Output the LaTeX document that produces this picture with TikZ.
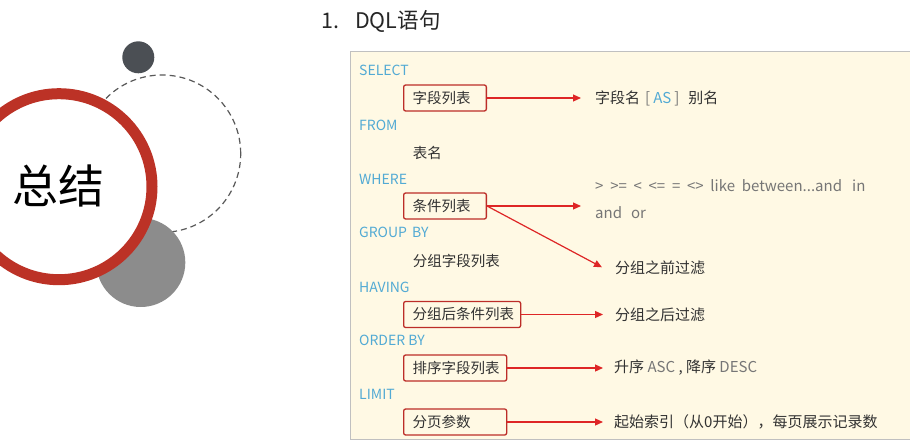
\documentclass[tikz,border=0pt]{standalone}
\usepackage{fontspec}
\setmainfont{Noto Sans CJK SC}
\usetikzlibrary{arrows.meta}
\definecolor{kwblue}{RGB}{82,170,212}
\definecolor{boxfill}{RGB}{255,249,228}
\definecolor{boxline}{RGB}{192,192,192}
\definecolor{redbox}{RGB}{188,45,40}
\definecolor{redarrow}{RGB}{222,38,38}
\definecolor{ringred}{RGB}{188,50,38}
\definecolor{darkdot}{RGB}{75,79,84}
\definecolor{graydot}{RGB}{140,140,140}
\definecolor{txt}{RGB}{50,50,50}
\definecolor{optxt}{RGB}{118,118,118}
\begin{document}
\begin{tikzpicture}[x=1pt,y=-1pt,
  kw/.style={anchor=west, inner sep=0pt, text=kwblue, font=\fontsize{14}{16}\selectfont},
  item/.style={anchor=west, inner sep=0pt, text=txt, font=\fontsize{14.5}{17}\selectfont},
  kbox/.style={anchor=west, draw=redbox, line width=1.3pt, rounded corners=2pt, inner xsep=9pt, inner ysep=0pt, minimum height=26pt, text=txt, font=\fontsize{14.5}{17}\selectfont},
  res/.style={anchor=west, inner sep=0pt, text=txt, font=\fontsize{15}{17}\selectfont},
  arr/.style={draw=redarrow, line width=1.2pt, -{Triangle[length=8pt,width=7pt]}},
]
\useasboundingbox (0,0) rectangle (910,441);
\fill[white] (0,0) rectangle (910,441);
% decorative circles
\draw[black!65, line width=1.2pt, dash pattern=on 6pt off 4pt] (162,153.7) circle[radius=78.7pt];
\fill[graydot] (140.8,262.5) circle[radius=44.5pt];
\fill[darkdot] (138.3,57.3) circle[radius=16pt];
\draw[ringred, line width=11pt, fill=white] (59,186.7) circle[radius=93pt];
\node[inner sep=0pt, font=\fontsize{46}{50}\selectfont, text=black] (zj) at (58.5,186) {总结};
% title
\node[anchor=west, inner sep=0pt, font=\fontsize{21.5}{25}\selectfont, text=black!85] (title) at (321,21.7) {1.\hspace{16pt}DQL语句};
% panel
\draw[boxline, fill=boxfill, line width=1pt] (350,51.7) rectangle (916,439);
% keywords
\node[kw] (k1) at (359,70.7) {SELECT};
\node[kw] (k2) at (359,125) {FROM};
\node[kw] (k3) at (359,179.3) {WHERE};
\node[kw] (k4) at (359,232.7) {GROUP\hspace{5pt}BY};
\node[kw] (k5) at (359,287) {HAVING};
\node[kw] (k6) at (359,340) {ORDER BY};
\node[kw] (k7) at (359,394) {LIMIT};
% items
\node[kbox] (b1) at (403,98) {\makebox[64.7pt][l]{字段列表}};
\node[item] (i2) at (412.7,152.7) {表名};
\node[kbox] (b2) at (403,206) {\makebox[64.7pt][l]{条件列表}};
\node[item] (i4) at (412.7,260.7) {分组字段列表};
\node[kbox] (b3) at (403,314.5) {\makebox[99pt][l]{分组后条件列表}};
\node[kbox] (b4) at (403,368) {\makebox[85pt][l]{排序字段列表}};
\node[kbox] (b5) at (403,422) {\makebox[85pt][l]{分页参数}};
% arrow ends
\coordinate (e1) at (581,98);
\coordinate (e2) at (581,206);
\coordinate (e2d) at (602,267.3);
\coordinate (e3) at (603,314.5);
\coordinate (e4) at (603,368);
\coordinate (e5) at (603,422);
\draw[arr] (b1.east) -- (e1);
\draw[arr] (b2.east) -- (e2);
\draw[arr] (b2.east) -- (e2d);
\draw[arr] (b3.east) -- (e3);
\draw[arr] (b4.east) -- (e4);
\draw[arr] (b5.east) -- (e5);
% results
\node[res] (r1) at (595,98) {字段名\hspace{5pt}\textcolor{optxt}{[}\hspace{3pt}\textcolor{kwblue}{AS}\hspace{3pt}\textcolor{optxt}{]}\hspace{9pt}别名};
\node[res, text=optxt] (r2a) at (595,186) {> \ >= \ < \ <= \ = \ <> \ like\ \ between...and\ \ \ in};
\node[res, text=optxt] (r2b) at (595,212.7) {and\hspace{9pt}or};
\node[res] (r2c) at (615,267.3) {分组之前过滤};
\node[res] (r3) at (615,314.5) {分组之后过滤};
\node[res] (r4) at (614,368) {升序 \textcolor{optxt}{ASC} , 降序 \textcolor{optxt}{DESC}};
\node[res] (r5) at (614,422) {起始索引（从0开始），每页展示记录数};
\end{tikzpicture}
\end{document}
